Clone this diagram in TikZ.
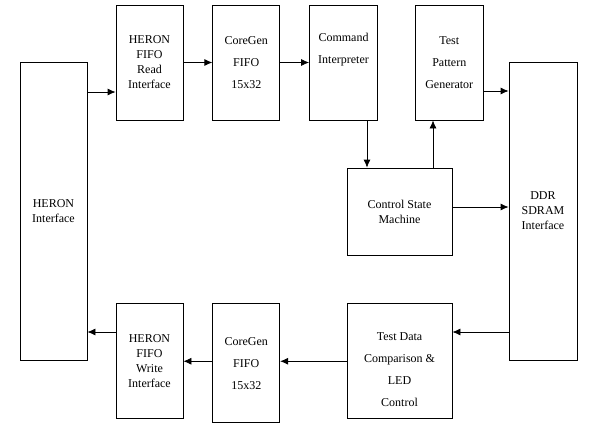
\documentclass[tikz,border=0pt]{standalone}
\usepackage{fontspec}
\setmainfont{Liberation Serif}
\usetikzlibrary{arrows.meta, positioning}

\tikzset{
  blk/.style={draw, line width=0.75pt, inner sep=0pt, align=center,
    minimum width=67pt, minimum height=115pt,
    font=\fontsize{12}{15}\selectfont},
  wideblk/.style={blk, font=\fontsize{12}{22}\selectfont}
}

\begin{document}
\begin{tikzpicture}[x=1pt, y=-1pt, >={Latex[length=8pt,width=7pt]}, line width=0.75pt]

  \useasboundingbox (0,0) rectangle (590,426);

  \node[blk, minimum height=298pt]		(hi)	at (53.5,211)		{HERON\\Interface};
  \node[blk]					(rd)	at (149.5,62.5)		{HERON\\FIFO\\Read\\Interface};
  \node[wideblk]				(cg1)	[right=29pt of rd]	{CoreGen\\FIFO\\15x32};
  \node[wideblk, minimum width=68pt]		(ci)	[right=29pt of cg1]	{Command\\Interpreter\\\strut};
  \node[wideblk, minimum width=68pt]		(tpg)	[right=37pt of ci]	{Test\\Pattern\\Generator};
  \node[blk, minimum width=68pt, minimum height=298pt]	(ddr)	at (543,211)	{DDR\\SDRAM\\Interface};
  \node[blk, minimum width=105pt, minimum height=87pt]	(csm)	at (399.5,211.5)	{Control State\\Machine};
  \node[wideblk, minimum width=105pt]		(td)	[below=48pt of csm]	{\rule{0pt}{25pt}Test Data\\Comparison \&\\LED\\Control};
  \node[wideblk, minimum height=119pt]		(cg2)	[below=183pt of cg1]	{CoreGen\\FIFO\\15x32};
  \node[blk]					(wr)	[below=183pt of rd]	{HERON\\FIFO\\Write\\Interface};

\path[->]
(hi.east |- 0,92)	edge (rd.west |- 0,92)
(rd)			edge (cg1)
(cg1)			edge (ci)
(ci.south -| 367,0)	edge (csm.north -| 367,0)
(csm.north -| 433,0)	edge (tpg.south -| 433,0)
(tpg.east |- 0,91)	edge (ddr.west |- 0,91)
(csm.east |- 0,207)	edge (ddr.west |- 0,207)
(ddr.west |- 0,332)	edge (td.east |- 0,332)
(td.west)		edge (td.west -| cg2.east)
(cg2.west |- wr.east)	edge (wr.east)
(wr.west |- 0,332)	edge (hi.east |- 0,332);

\end{tikzpicture}
\end{document}
